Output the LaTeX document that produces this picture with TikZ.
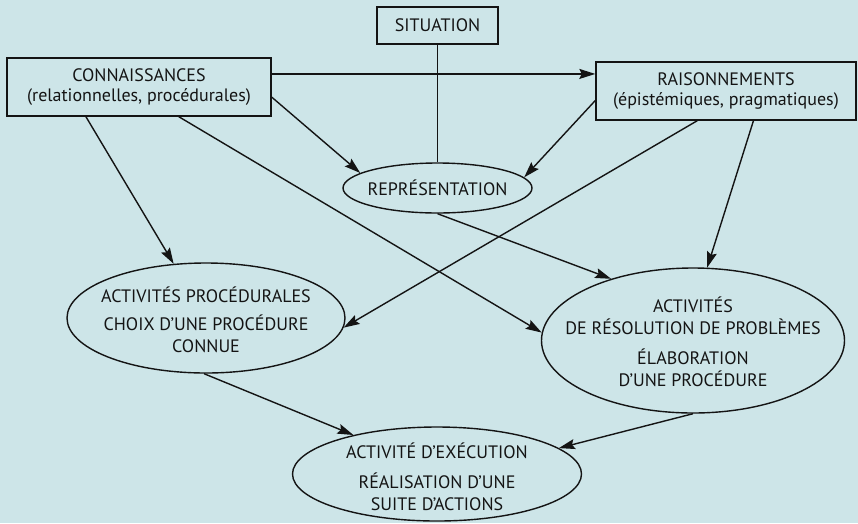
\documentclass[tikz,border=0pt]{standalone}
\usepackage{fontspec}
\setmainfont{PT Sans}
\usetikzlibrary{shapes.geometric,arrows.meta,calc}
\definecolor{bg}{RGB}{205,229,232}
\definecolor{ink}{RGB}{20,20,20}
\begin{document}
\begin{tikzpicture}[x=1pt,y=-1pt,
  every node/.style={font=\fontsize{18}{20}\selectfont, text=ink},
  boxnode/.style={draw=ink, line width=1.4pt, inner sep=0pt, align=center},
  ell/.style={draw=ink, ellipse, line width=1.4pt, inner sep=0pt},
  txt/.style={align=center, inner sep=0pt, font=\fontsize{18}{22}\selectfont},
  arr/.style={draw=ink, line width=1.4pt, -{Stealth[length=16pt,width=10pt,inset=2.5pt]}},
  ln/.style={draw=ink, line width=1.4pt}]
\fill[bg] (0,0) rectangle (858,523);
\useasboundingbox (0,0) rectangle (858,523);

% boxes
\node[boxnode, minimum width=121pt, minimum height=37pt] (sit) at (437.5,25.5) {SITUATION};
\node[boxnode, minimum width=264pt, minimum height=58pt] (conn) at (139,87) {CONNAISSANCES\\(relationnelles, procédurales)};
\node[boxnode, minimum width=260pt, minimum height=58pt] (rais) at (726,91) {RAISONNEMENTS\\(épistémiques, pragmatiques)};

% ellipses
\node[ell, minimum width=189pt, minimum height=50pt] (repr) at (437.5,188) {};
\node[txt] (reprtxt) at (repr.center) {REPRÉSENTATION};

\node[ell, minimum width=278pt, minimum height=110pt] (proc) at (206,318) {};
\node[txt] (proctxt) at (206,320) {ACTIVITÉS PROCÉDURALES\\[6pt]CHOIX D’UNE PROCÉDURE\\CONNUE};

\node[ell, minimum width=303pt, minimum height=145pt] (res) at (693,340.5) {};
\node[txt] (restxt) at (693,342) {ACTIVITÉS\\DE RÉSOLUTION DE PROBLÈMES\\[8pt]ÉLABORATION\\D’UNE PROCÉDURE};

\node[ell, minimum width=289pt, minimum height=94pt] (exec) at (437,474) {};
\node[txt] (exectxt) at (437,477) {ACTIVITÉ D’EXÉCUTION\\[8pt]RÉALISATION D’UNE\\SUITE D’ACTIONS};

% connectors
\coordinate (c1) at ($(conn.north east)!0.28!(conn.south east)$);
\draw[arr] (c1) -- (c1 -| rais.west);
\draw[ln] (sit.south) -- (repr.north);
\draw[arr] ($(conn.north east)!0.67!(conn.south east)$) -- (repr.169);
\draw[arr] ($(rais.north west)!0.66!(rais.south west)$) -- (repr.7);
\draw[arr] ($(conn.south west)!0.30!(conn.south east)$) -- (proc);
\draw[arr] ($(conn.south west)!0.65!(conn.south east)$) -- (res.177);
\draw[arr] (repr.south) -- (res.143);
\draw[arr] ($(rais.south west)!0.39!(rais.south east)$) -- (proc.-4);
\draw[arr] ($(rais.south west)!0.605!(rais.south east)$) -- (res.79);
\draw[arr] (proc.268) -- (exec.155);
\draw[arr] (res.south) -- (exec.12);
\end{tikzpicture}
\end{document}
